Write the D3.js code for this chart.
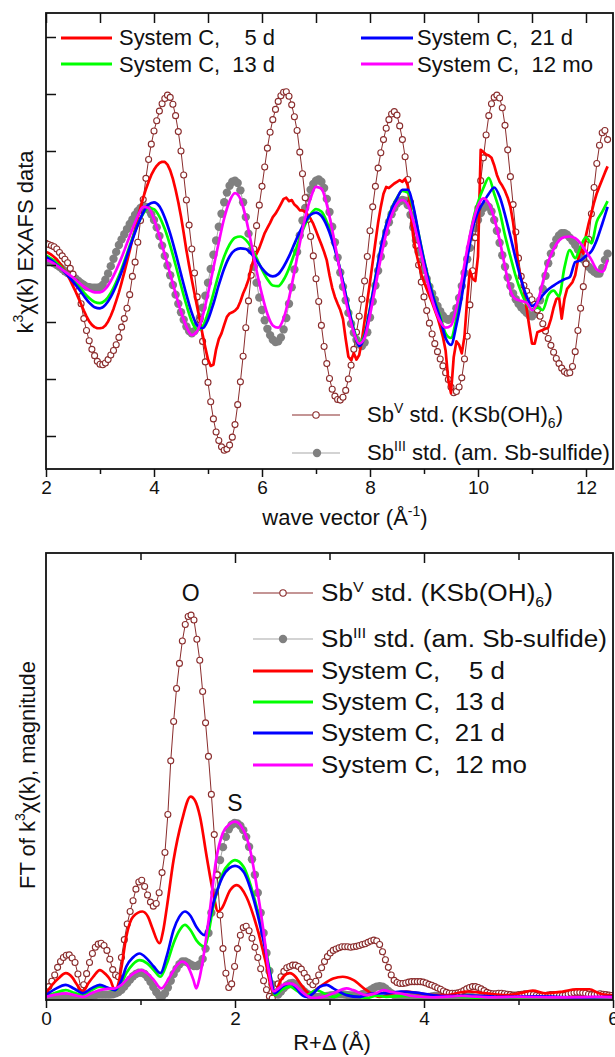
<!DOCTYPE html>
<html>
<head>
<meta charset="utf-8">
<script src="https://cdn.jsdelivr.net/npm/d3@7"></script>
<style>
  body { margin: 0; background: #fff; }
  svg text { font-family: "Liberation Sans", Arial, Helvetica, sans-serif; fill: #111; white-space: pre; }
</style>
</head>
<body>
<svg id="chart" width="615" height="1057"></svg>
<script>
// ---------- k-space (EXAFS) data ----------
// standards sampled every 0.05 Å⁻¹ from k = 2.0; smooth sample spectra every 0.1 Å⁻¹; the 5 d spectrum every 0.05 Å⁻¹
const kStart = 2.0;
const kStepFine = 0.05;
const kStepCoarse = 0.1;

const sbVk = [
  3.8,3.6,3.4,3.2,2.8,2.2,1.6,1.0,0.4,-0.6,-1.6,-3.0,-4.6,-6.8,-9.4,-11.5,-13.3,-14.8,-15.9,-16.9,
  -17.4,-17.5,-17.2,-16.6,-15.8,-15.0,-14.0,-12.7,-10.9,-9.4,-7.6,-5.2,-2.0,0.5,4.0,7.8,11.5,15.2,18.5,21.2,
  23.5,25.3,27.0,28.3,29.2,29.8,29.4,28.2,26.2,23.4,20.0,15.8,11.4,7.0,2.8,-1.4,-5.6,-9.6,-13.4,-17.0,
  -20.6,-24.0,-27.0,-29.3,-30.8,-31.9,-32.5,-32.3,-31.6,-30.2,-28.0,-24.5,-20.5,-16.0,-11.0,-6.3,-1.8,2.8,6.9,10.5,
  13.8,17.2,20.5,23.3,25.5,27.3,28.7,29.7,30.3,30.4,29.6,28.1,26.0,23.6,19.8,16.0,11.8,8.0,5.0,1.6,
  -2.4,-6.4,-10.6,-14.3,-17.3,-19.9,-21.8,-23.0,-23.6,-23.7,-23.2,-22.0,-20.0,-17.6,-14.8,-11.8,-9.0,-6.0,-2.8,1.5,
  6.0,10.2,13.8,17.0,19.7,22.0,24.0,25.5,26.5,26.9,26.3,24.4,22.0,19.0,15.0,11.0,7.2,3.4,0.0,-3.0,
  -5.6,-8.0,-10.2,-12.1,-13.8,-15.2,-16.5,-17.7,-18.9,-20.1,-21.4,-22.4,-22.2,-21.4,-19.8,-16.5,-12.5,-7.0,-1.0,4.8,
  10.0,14.8,18.8,22.8,26.2,28.3,29.4,29.8,29.3,27.6,24.5,20.2,15.5,10.6,5.8,1.2,-2.0,-3.6,-4.6,-5.4,
  -6.1,-6.9,-7.9,-9.0,-10.3,-11.6,-12.9,-14.1,-15.3,-16.4,-17.3,-18.1,-18.7,-19.0,-18.9,-17.8,-15.2,-11.5,-7.6,-3.8,
  0.2,4.5,9.0,13.6,17.8,21.0,23.2,23.6,22.0
];

const sbIIIk = [
  0.9,0.7,0.5,0.3,0.0,-0.3,-0.7,-1.1,-1.4,-1.7,-2.0,-2.4,-2.8,-3.2,-3.5,-3.8,-3.9,-4.0,-4.0,-4.0,
  -3.9,-3.5,-2.6,-1.5,-0.2,1.1,2.3,3.5,4.5,5.4,6.3,7.2,8.0,8.8,9.5,10.0,10.3,10.2,9.7,8.9,
  7.9,6.6,5.1,3.4,1.6,-0.1,-1.8,-3.5,-5.2,-6.8,-8.3,-9.6,-10.8,-11.6,-12.0,-11.6,-10.6,-9.2,-7.5,-5.4,
  -3.1,-0.7,1.8,4.3,6.7,9.0,11.0,12.7,13.9,14.6,14.8,14.4,13.1,11.0,8.4,5.5,2.6,-0.3,-3.1,-5.7,
  -7.9,-9.7,-11.2,-12.3,-13.1,-13.5,-13.4,-12.7,-11.3,-9.3,-6.8,-3.9,-0.8,2.3,5.2,7.8,10.0,11.8,13.2,14.2,
  14.8,15.0,14.6,13.5,11.6,9.3,6.7,4.0,1.3,-1.3,-3.8,-6.2,-8.4,-10.3,-11.9,-13.1,-13.9,-14.2,-13.6,-11.8,
  -9.2,-6.4,-3.6,-1.0,1.5,3.8,5.8,7.5,8.9,10.0,10.8,11.2,11.4,11.3,10.5,8.8,6.6,4.3,2.3,0.6,
  -0.9,-2.4,-3.8,-5.0,-6.1,-7.2,-8.1,-8.9,-9.4,-9.6,-9.4,-8.8,-7.6,-5.8,-3.7,-1.4,1.0,3.0,4.9,6.5,
  7.9,9.1,10.0,10.4,10.2,9.4,7.9,6.0,3.9,1.7,-0.3,-2.2,-3.7,-5.0,-6.0,-6.8,-7.4,-7.9,-8.4,-8.8,
  -9.0,-8.6,-7.7,-6.2,-4.2,-1.9,0.3,2.0,3.4,4.5,5.2,5.6,5.6,5.3,4.8,4.2,3.5,2.7,1.8,1.0,
  0.3,-0.3,-0.8,-1.2,-1.5,-1.5,-0.5,0.9,2.0
];

const sys5dK = [
  2.3,2.1,1.8,1.4,1.0,0.4,-0.3,-1.0,-1.8,-2.7,-3.7,-4.7,-5.8,-6.9,-8.0,-9.0,-9.9,-10.5,-10.9,-11.1,
  -11.1,-11.0,-10.6,-9.9,-8.9,-7.7,-6.3,-4.8,-3.1,-1.3,0.6,2.5,4.5,6.4,8.3,10.1,11.8,13.3,14.6,15.8,
  16.7,17.4,17.9,18.1,18.1,17.6,16.6,15.1,13.2,11.0,8.5,5.6,2.6,-0.1,-2.6,-5.0,-7.4,-9.8,-12.2,-14.5,
  -16.6,-17.7,-17.5,-14.8,-13.0,-12.0,-10.5,-9.1,-8.5,-8.3,-8.0,-7.5,-6.4,-5.0,-3.9,-2.6,-0.4,1.0,2.0,3.0,
  4.3,5.6,6.5,7.4,8.4,9.0,9.8,10.7,11.6,11.8,11.2,11.4,10.6,10.2,9.6,9.6,9.3,8.8,8.1,7.2,
  6.0,4.8,3.6,2.3,0.8,-1.8,-4.0,-5.6,-6.8,-7.9,-9.5,-13.0,-16.1,-16.7,-15.5,-16.6,-15.8,-13.2,-9.8,-6.3,
  -3.0,0.5,4.0,7.4,10.2,12.5,13.7,13.5,13.9,14.3,14.6,14.9,14.6,15.1,13.9,9.5,5.0,2.4,0.3,-1.6,
  -3.0,-4.2,-5.4,-6.6,-7.9,-9.2,-10.8,-12.6,-15.0,-20.2,-22.5,-16.2,-13.4,-14.0,-15.5,-12.5,-6.0,-1.0,-2.4,-2.8,
  1.5,20.2,19.8,19.4,19.2,18.8,17.5,15.8,14.6,13.9,13.0,11.8,10.2,7.5,3.8,-0.3,-2.4,-4.5,-7.6,-10.8,
  -13.8,-13.8,-11.8,-11.6,-11.4,-11.2,-11.0,-9.5,-7.5,-6.0,-5.6,-9.4,-6.0,-4.2,-3.6,-3.0,-1.8,0.8,3.0,2.0,
  5.2,7.3,9.1,11.0,12.6,13.8,15.0,16.2,17.3
];

const sys13dK = [
  1.7,1.1,0.3,-0.6,-1.6,-2.6,-3.7,-4.8,-5.8,-6.5,
  -6.7,-6.2,-4.9,-3.0,-0.7,2.0,4.7,7.1,9.0,10.0,
  9.8,8.5,6.3,3.4,0.0,-3.6,-7.0,-9.9,-11.4,-10.8,
  -8.4,-5.0,-1.5,1.5,3.6,4.8,5.0,4.4,3.1,1.2,
  -0.8,-2.5,-3.6,-3.7,-2.6,-0.6,2.0,4.7,7.1,8.9,
  9.8,9.4,7.6,4.7,1.1,-3.0,-7.3,-11.2,-13.6,-12.2,
  -7.6,-2.2,2.9,7.0,9.9,11.8,13.0,12.7,10.0,5.5,
  1.0,-3.0,-6.3,-9.0,-12.0,-12.8,-9.4,-4.5,1.8,7.5,
  11.0,13.5,15.3,12.5,9.5,5.2,1.5,-2.0,-4.8,-6.8,
  -7.8,-7.5,-7.9,-5.3,-4.5,-5.5,-0.5,2.6,1.2,3.2,
  4.9,3.8,7.6,9.3,11.2
];

const sys21dK = [
  1.4,0.8,0.0,-0.8,-1.8,-2.9,-4.1,-5.4,-6.6,-7.4,
  -7.6,-7.0,-5.6,-3.6,-1.2,1.6,4.4,7.0,9.2,10.6,
  11.0,10.3,8.3,5.5,2.1,-1.6,-5.2,-8.4,-10.6,-11.1,
  -9.6,-6.8,-3.5,-0.6,1.5,2.6,2.9,2.8,2.0,0.8,
  -0.6,-1.6,-2.0,-1.6,-0.3,1.5,3.7,5.8,7.6,8.8,
  9.2,8.6,6.9,4.3,1.0,-3.0,-7.5,-11.5,-14.2,-12.5,
  -7.8,-2.4,2.9,7.0,9.8,11.7,13.2,13.2,10.4,5.5,
  0.8,-3.2,-6.5,-9.4,-12.8,-14.0,-10.5,-5.5,1.0,6.4,
  9.3,11.0,12.5,13.6,12.0,8.8,5.0,1.0,-2.6,-5.5,
  -7.2,-6.5,-5.3,-4.3,-3.6,-3.0,-2.5,-2.1,0.5,0.8,
  1.6,2.4,4.4,7.2,10.2
];

const sys12moK = [
  0.9,0.5,-0.1,-0.8,-1.5,-2.2,-3.0,-3.8,-4.4,-4.8,
  -4.8,-4.2,-2.8,-0.9,1.3,3.8,6.3,8.6,10.2,10.0,
  8.0,5.1,1.8,-1.6,-5.0,-8.2,-10.8,-12.3,-11.6,-9.0,
  -5.0,-0.5,4.0,8.2,11.2,12.6,11.6,8.3,3.8,-1.0,
  -5.2,-8.6,-10.6,-11.0,-9.4,-5.8,-1.2,3.8,8.3,11.7,
  13.7,13.4,10.6,6.2,1.2,-3.8,-8.3,-11.8,-13.8,-12.8,
  -8.8,-3.8,1.2,5.5,8.7,10.7,11.4,10.6,7.8,3.9,
  -0.3,-4.3,-7.6,-9.9,-11.0,-10.6,-7.5,-2.6,2.8,7.3,
  10.4,11.7,10.8,8.2,4.4,-0.3,-4.5,-6.0,-6.3,-6.6,
  -7.9,-6.6,-3.0,0.5,2.8,4.3,4.9,5.0,4.7,3.8,
  2.4,0.9,-0.8,-1.2,0.9
];

// ---------- R-space (Fourier transform magnitude) data ----------
const rStep = 0.0307;   // FT grid of the standards, starting at R = 0

const sbVr = [
  1.5,3.0,4.2,5.6,7.3,8.6,9.5,10.0,10.1,9.4,
  8.4,5.8,2.8,3.4,5.9,8.4,10.4,11.8,12.5,12.7,
  12.2,11.1,9.1,6.8,5.6,5.2,9.5,13.5,17.0,19.8,
  22.2,24.8,26.4,26.8,25.4,23.5,21.9,21.0,21.6,24.0,
  28.5,33.0,41.5,53.5,62.3,69.7,75.3,80.3,84.0,85.8,
  86.1,85.0,80.7,76.0,69.0,62.0,54.5,46.0,37.0,28.0,
  19.0,11.5,6.0,2.8,3.6,7.5,11.5,14.5,16.2,16.5,
  15.5,13.8,11.8,9.5,7.0,4.3,2.3,0.8,0.4,1.8,
  3.6,5.2,6.4,7.2,7.5,7.8,7.8,7.5,6.9,6.0,
  5.0,4.0,3.4,4.2,5.6,7.2,8.6,9.7,10.5,11.1,
  11.4,11.7,11.9,11.9,11.9,11.8,11.9,12.0,12.2,12.4,
  12.6,12.9,13.2,13.4,13.2,12.4,10.8,9.0,7.3,5.6,
  4.4,3.9,3.7,3.7,3.8,4.0,4.1,4.1,4.1,4.1,
  4.0,3.8,3.5,3.3,3.0,2.7,2.4,2.0,1.7,1.5,
  1.5,1.5,1.6,1.8,2.1,2.5,2.8,3.0,3.0,2.8,
  2.5,2.1,1.7,1.5,1.4,1.4,1.5,1.5,1.4,1.3,
  1.2,1.1,1.1,1.2,1.3,1.4,1.4,1.3,1.2,1.0,
  0.9,0.9,1.0,1.1,1.2,1.2,1.1,1.0,1.0,1.1,
  1.3,1.5,1.6,1.7,1.7,1.6,1.5,1.3,1.2,1.2,
  1.3,1.4,1.3,1.2,1.1,1.0
];

const sbIIIr = [
  0.4,0.5,0.6,0.7,0.8,0.8,0.8,0.7,0.6,0.5,
  0.4,0.4,0.4,0.5,0.6,0.8,1.0,1.1,1.2,1.2,
  1.2,1.2,1.2,1.3,1.5,1.8,2.3,3.0,3.8,4.6,
  5.3,5.8,6.1,6.1,5.8,5.1,4.1,2.9,1.8,1.0,
  0.8,1.5,2.8,4.3,5.8,7.0,8.0,8.6,8.6,8.3,
  7.9,7.6,7.6,8.0,9.2,11.5,15.0,19.5,24.0,28.0,
  31.3,34.2,36.5,38.2,39.2,39.6,39.5,39.0,38.0,36.5,
  34.3,31.5,28.0,24.0,19.5,15.0,10.5,6.5,3.5,1.5,
  1.2,1.9,2.7,3.3,3.7,3.8,3.6,3.1,2.5,1.9,
  1.4,1.0,0.8,0.7,0.7,0.7,0.8,0.9,1.0,1.1,
  1.2,1.3,1.3,1.2,1.1,1.0,1.0,1.0,1.1,1.3,
  1.5,1.9,2.3,2.7,3.0,3.1,3.0,2.6,2.0,1.5,
  1.1,0.8,0.7,0.8,0.9,1.0,1.0,0.9,0.8,0.7,
  0.6,0.6,0.7,0.8,0.9,0.9,0.8,0.7,0.6,0.6,
  0.6,0.7,0.8,0.9,0.9,0.8,0.7,0.6,0.5,0.5,
  0.6,0.7,0.8,0.8,0.7,0.6,0.5,0.5,0.6,0.7,
  0.7,0.6,0.5,0.5,0.5,0.6,0.7,0.7,0.6,0.5,
  0.5,0.5,0.6,0.7,0.7,0.6,0.5,0.5,0.5,0.6,
  0.6,0.6,0.5,0.5,0.5,0.6,0.6,0.6,0.5,0.5,
  0.5,0.5,0.6,0.6,0.5,0.5
];

// sample spectra in R-space as [R, magnitude] pairs
const sys5dR = [[0,1.5],[0.07,3.5],[0.13,4.8],[0.21,6.0],[0.28,5.0],[0.32,3.7],[0.39,1.9],[0.45,3.8],[0.50,5.2],[0.57,6.7],[0.63,5.8],[0.68,4.5],[0.73,2.2],[0.77,4.0],[0.80,7.5],[0.85,14.2],[0.92,18.6],[1.02,19.8],[1.08,18.6],[1.12,16.4],[1.20,12.7],[1.24,15.5],[1.28,20.9],[1.35,31.3],[1.44,40.3],[1.53,45.5],[1.58,44.5],[1.63,41.0],[1.70,32.1],[1.77,23.9],[1.82,19.8],[1.86,20.5],[1.95,24.6],[2.02,25.7],[2.12,23.1],[2.23,16.4],[2.32,8.9],[2.39,2.2],[2.42,1.1],[2.47,3.8],[2.51,5.2],[2.58,6.0],[2.64,5.2],[2.69,3.7],[2.79,1.5],[2.90,3.0],[3.04,4.8],[3.14,5.2],[3.25,4.5],[3.39,2.2],[3.53,0.7],[3.67,1.5],[3.81,1.9],[3.95,1.5],[4.10,1.1],[4.24,1.1],[4.45,1.9],[4.66,1.5],[4.87,1.1],[5.01,1.5],[5.15,2.1],[5.29,1.5],[5.47,1.9],[5.61,2.4],[5.75,2.4],[5.85,1.5],[5.96,1.1],[6.0,1.1]];
const sys13dR = [[0,0.7],[0.1,1.6],[0.21,2.2],[0.3,1.6],[0.39,1.1],[0.48,2.2],[0.57,3.0],[0.65,2.6],[0.73,2.2],[0.8,3.8],[0.85,6.0],[0.92,8.0],[0.99,8.9],[1.07,8.2],[1.14,6.7],[1.21,5.2],[1.28,8.2],[1.35,12.7],[1.41,15.5],[1.47,16.8],[1.53,15.6],[1.59,13.4],[1.68,11.9],[1.72,15.0],[1.77,20.9],[1.82,25.0],[1.87,28.3],[1.94,30.5],[2.0,31.3],[2.09,29.8],[2.19,23.9],[2.30,14.2],[2.37,6.3],[2.42,1.1],[2.50,2.4],[2.58,3.0],[2.66,2.0],[2.75,1.0],[2.86,2.2],[2.97,1.2],[3.05,0.7],[3.14,1.5],[3.25,0.9],[3.40,0.5],[3.50,1.0],[3.60,0.7],[3.80,0.9],[4.0,0.6],[4.3,0.8],[4.6,0.5],[5.0,0.6],[5.4,0.5],[5.8,0.6],[6.0,0.5]];
const sys21dR = [[0,1.1],[0.1,2.5],[0.21,3.4],[0.3,2.5],[0.39,1.5],[0.48,2.6],[0.57,3.4],[0.65,2.8],[0.73,2.2],[0.8,4.5],[0.85,7.5],[0.92,9.5],[0.99,10.4],[1.07,9.2],[1.14,7.5],[1.21,6.0],[1.28,10.0],[1.35,15.7],[1.41,18.6],[1.47,19.8],[1.53,18.8],[1.59,16.4],[1.68,14.5],[1.72,17.0],[1.77,21.6],[1.82,25.0],[1.87,27.6],[1.94,29.5],[2.0,30.0],[2.09,28.7],[2.19,23.1],[2.30,13.4],[2.37,6.0],[2.42,1.5],[2.50,3.0],[2.58,3.7],[2.66,2.4],[2.69,1.5],[2.76,0.7],[2.83,1.5],[2.90,3.0],[2.97,3.4],[3.04,2.6],[3.18,1.1],[3.32,0.7],[3.46,1.5],[3.60,1.5],[3.76,1.9],[3.97,1.5],[4.2,0.9],[4.5,1.0],[4.8,0.7],[5.2,0.8],[5.6,0.6],[6.0,0.7]];
const sys12moR = [[0,0.7],[0.1,1.2],[0.21,1.5],[0.3,1.1],[0.39,0.7],[0.48,1.5],[0.57,2.2],[0.65,2.5],[0.73,2.6],[0.8,3.4],[0.85,4.5],[0.93,6.0],[1.01,6.7],[1.08,5.8],[1.14,4.5],[1.22,2.6],[1.31,5.2],[1.38,7.6],[1.44,8.6],[1.49,8.0],[1.52,6.7],[1.56,4.5],[1.59,2.6],[1.62,4.5],[1.66,8.9],[1.73,19.4],[1.80,31.3],[1.87,37.3],[1.94,39.3],[2.0,39.9],[2.09,38.0],[2.16,33.6],[2.23,25.4],[2.30,15.7],[2.35,7.5],[2.41,1.9],[2.46,2.6],[2.51,3.4],[2.58,3.7],[2.64,3.2],[2.69,2.2],[2.76,1.0],[2.83,0.4],[2.93,0.7],[3.04,1.5],[3.18,2.6],[3.25,2.2],[3.39,1.1],[3.50,1.6],[3.57,2.2],[3.65,1.8],[3.74,1.5],[3.9,0.8],[4.1,0.6],[4.4,0.9],[4.7,0.6],[5.0,0.7],[5.4,0.6],[5.8,0.7],[6.0,0.6]];

// ---------- labels ----------
const sampleLabels = ["System C,    5 d", "System C,  13 d", "System C,  21 d", "System C,  12 mo"];
const kTicksMajor = [2, 4, 6, 8, 10, 12];
const kTicksMinor = [3, 5, 7, 9, 11];
const rTicksMajor = [0, 2, 4, 6];
const rTicksMinor = [1, 3, 5];

// ---------- styles ----------
const sampleColors = ["#ff0000", "#00ff00", "#0000ff", "#ff00ff"];
const sbVColor = "#8a2c2c";
const sbIIIColor = "#808080";

const svg = d3.select("#chart");

// Build point lists from sampled arrays
const sampled = (vals, start, step) => vals.map((v, i) => [start + i * step, v]);

const kPts = {
  sbV: sampled(sbVk, kStart, kStepFine),
  sbIII: sampled(sbIIIk, kStart, kStepFine),
  samples: [
    sampled(sys5dK, kStart, kStepFine),
    sampled(sys13dK, kStart, kStepCoarse),
    sampled(sys21dK, kStart, kStepCoarse),
    sampled(sys12moK, kStart, kStepCoarse)
  ]
};
const rPts = {
  sbV: sampled(sbVr, 0, rStep),
  sbIII: sampled(sbIIIr, 0, rStep),
  samples: [sys5dR, sys13dR, sys21dR, sys12moR]
};

// ---------- panel geometry ----------
const xLeft = 46, xRight = 613;
const panelK = { y0: 13, y1: 469 };
const panelR = { y0: 553, y1: 1000 };

const xK = d3.scaleLinear([2, 12.5], [xLeft, xRight]);
const yK = d3.scaleLinear([-35.79, 44.21], [panelK.y1, panelK.y0]);
const xR = d3.scaleLinear([0, 6], [xLeft, xRight]);
const yR = d3.scaleLinear([0, 100], [panelR.y1, panelR.y0]);

const defs = svg.append("defs");
defs.append("clipPath").attr("id", "clipK").append("rect")
  .attr("x", xLeft).attr("y", panelK.y0).attr("width", xRight - xLeft).attr("height", panelK.y1 - panelK.y0);
defs.append("clipPath").attr("id", "clipR").append("rect")
  .attr("x", xLeft).attr("y", panelR.y0).attr("width", xRight - xLeft).attr("height", panelR.y1 - panelR.y0);

// text with super/subscript pieces: strings stay on the baseline, {t, d} pieces are shifted
function richText(parent, parts, attrs) {
  const t = parent.append("text");
  Object.entries(attrs).forEach(([k, v]) => t.attr(k, v));
  let shift = 0;
  parts.forEach(p => {
    const s = typeof p === "string" ? { t: p, d: 0 } : p;
    const ts = t.append("tspan").text(s.t);
    if (s.d !== shift) { ts.attr("dy", s.d - shift); shift = s.d; }
    if (s.d !== 0) ts.attr("font-size", s.fs || 14);
  });
  return t;
}

function drawStandards(g, pts, xS, yS) {
  // Sb(III): grey line with filled grey dots
  g.append("path").datum(pts.sbIII)
    .attr("d", d3.line().x(d => xS(d[0])).y(d => yS(d[1])))
    .attr("fill", "none").attr("stroke", "#a8a8a8").attr("stroke-width", 1);
  g.append("g").selectAll("circle").data(pts.sbIII).join("circle")
    .attr("cx", d => xS(d[0])).attr("cy", d => yS(d[1])).attr("r", 4.2)
    .attr("fill", sbIIIColor);
  // Sb(V): thin brown line with open circles
  g.append("path").datum(pts.sbV)
    .attr("d", d3.line().x(d => xS(d[0])).y(d => yS(d[1])))
    .attr("fill", "none").attr("stroke", sbVColor).attr("stroke-width", 1);
  g.append("g").selectAll("circle").data(pts.sbV).join("circle")
    .attr("cx", d => xS(d[0])).attr("cy", d => yS(d[1])).attr("r", 3)
    .attr("fill", "#fff").attr("stroke", sbVColor).attr("stroke-width", 1.1);
}

function drawSamples(g, list, xS, yS, curves) {
  list.forEach((pts, i) => {
    g.append("path").datum(pts)
      .attr("d", d3.line().x(d => xS(d[0])).y(d => yS(d[1])).curve(curves[i]))
      .attr("fill", "none").attr("stroke", sampleColors[i])
      .attr("stroke-width", 2.7).attr("stroke-linejoin", "round");
  });
}

const tickStyle = sel => {
  sel.select(".domain").remove();
  sel.selectAll("line").attr("stroke", "#111").attr("stroke-width", 1.5);
};
const labelStyle = sel => sel.selectAll("text").attr("font-size", 19).attr("fill", "#111").attr("font-family", null);

// ================= upper panel: k-space =================
const gK = svg.append("g");
const plotK = gK.append("g").attr("clip-path", "url(#clipK)");
drawStandards(plotK, kPts, xK, yK);
drawSamples(plotK, kPts.samples, xK, yK,
  [d3.curveLinear, d3.curveMonotoneX, d3.curveMonotoneX, d3.curveMonotoneX]);

gK.append("g").attr("transform", `translate(0,${panelK.y1})`)
  .call(d3.axisBottom(xK).tickValues(kTicksMajor).tickSize(8).tickPadding(4).tickFormat(d3.format("d")))
  .call(tickStyle).call(labelStyle);
gK.append("g").attr("transform", `translate(0,${panelK.y1})`)
  .call(d3.axisBottom(xK).tickValues(kTicksMinor).tickSize(5).tickFormat(""))
  .call(tickStyle);
gK.append("g").attr("transform", `translate(0,${panelK.y0})`)
  .call(d3.axisTop(xK).tickValues(kTicksMajor.concat(kTicksMinor)).tickSize(-10).tickFormat(""))
  .call(tickStyle);
gK.append("g").attr("transform", `translate(${xLeft},0)`)
  .call(d3.axisLeft(yK).tickValues([-30, -20, -10, 0, 10, 20, 30, 40]).tickSize(-10).tickFormat(""))
  .call(tickStyle);
gK.append("rect").attr("x", xLeft).attr("y", panelK.y0).attr("width", xRight - xLeft).attr("height", panelK.y1 - panelK.y0)
  .attr("fill", "none").attr("stroke", "#111").attr("stroke-width", 1.8);

richText(gK, ["wave vector (Å", { t: "-1", d: -9 }, ")"],
  { x: 345, y: 525, "text-anchor": "middle", "font-size": 22 });
richText(gK, ["k", { t: "3", d: -10 }, "χ(k) EXAFS data"],
  { transform: "translate(33,242) rotate(-90)", "text-anchor": "middle", "font-size": 22 });

// legend: sample spectra (upper)
const kLegend = [
  { x1: 61, x2: 112, y: 38, tx: 119, ty: 45, w: 156 },
  { x1: 61, x2: 112, y: 64, tx: 119, ty: 72, w: 156 },
  { x1: 361, x2: 413, y: 38, tx: 417, ty: 45, w: 156 },
  { x1: 361, x2: 413, y: 64, tx: 417, ty: 72, w: 176 }
];
kLegend.forEach((p, i) => {
  gK.append("line").attr("x1", p.x1).attr("x2", p.x2).attr("y1", p.y).attr("y2", p.y)
    .attr("stroke", sampleColors[i]).attr("stroke-width", 3);
  gK.append("text").attr("x", p.tx).attr("y", p.ty).attr("font-size", 22)
    .attr("textLength", p.w).attr("lengthAdjust", "spacingAndGlyphs").text(sampleLabels[i]);
});

const sbVLabel = ["Sb", { t: "V", d: -9 }, " std. (KSb(OH)", { t: "6", d: 6 }, ")"];
const sbIIILabel = ["Sb", { t: "III", d: -9 }, " std. (am. Sb-sulfide)"];

function standardKey(g, x1, x2, xm, y, kind) {
  if (kind === "V") {
    g.append("line").attr("x1", x1).attr("x2", x2).attr("y1", y).attr("y2", y)
      .attr("stroke", sbVColor).attr("stroke-width", 1.2);
    g.append("circle").attr("cx", xm).attr("cy", y).attr("r", 3.2)
      .attr("fill", "#fff").attr("stroke", sbVColor).attr("stroke-width", 1.1);
  } else {
    g.append("line").attr("x1", x1).attr("x2", x2).attr("y1", y).attr("y2", y)
      .attr("stroke", "#a8a8a8").attr("stroke-width", 1.2);
    g.append("circle").attr("cx", xm).attr("cy", y).attr("r", 4.2).attr("fill", sbIIIColor);
  }
}

standardKey(gK, 292, 340, 316, 415, "V");
richText(gK, sbVLabel, { x: 367, y: 422, "font-size": 22, textLength: 196, lengthAdjust: "spacingAndGlyphs" });
standardKey(gK, 292, 340, 317, 453, "III");
richText(gK, sbIIILabel, { x: 367, y: 460, "font-size": 22, textLength: 243, lengthAdjust: "spacingAndGlyphs" });

// ================= lower panel: R-space =================
const gR = svg.append("g");
const plotR = gR.append("g").attr("clip-path", "url(#clipR)");
drawStandards(plotR, rPts, xR, yR);
drawSamples(plotR, rPts.samples, xR, yR,
  [d3.curveMonotoneX, d3.curveMonotoneX, d3.curveMonotoneX, d3.curveMonotoneX]);

gR.append("g").attr("transform", `translate(0,${panelR.y1})`)
  .call(d3.axisBottom(xR).tickValues(rTicksMajor).tickSize(8).tickPadding(4).tickFormat(d3.format("d")))
  .call(tickStyle).call(labelStyle);
gR.append("g").attr("transform", `translate(0,${panelR.y1})`)
  .call(d3.axisBottom(xR).tickValues(rTicksMinor).tickSize(5).tickFormat(""))
  .call(tickStyle);
gR.append("g").attr("transform", `translate(0,${panelR.y0})`)
  .call(d3.axisTop(xR).tickValues([2, 4]).tickSize(-10).tickFormat(""))
  .call(tickStyle);
gR.append("g").attr("transform", `translate(0,${panelR.y0})`)
  .call(d3.axisTop(xR).tickValues(rTicksMinor).tickSize(-7).tickFormat(""))
  .call(tickStyle);
gR.append("rect").attr("x", xLeft).attr("y", panelR.y0).attr("width", xRight - xLeft).attr("height", panelR.y1 - panelR.y0)
  .attr("fill", "none").attr("stroke", "#111").attr("stroke-width", 1.8);

richText(gR, ["R+Δ (Å)"], { x: 332, y: 1050, "text-anchor": "middle", "font-size": 22 });
richText(gR, ["FT of k", { t: "3", d: -10 }, "χ(k), magnitude"],
  { transform: "translate(35,775) rotate(-90)", "text-anchor": "middle", "font-size": 22 });

// shell labels
gR.append("text").attr("x", xR(1.53)).attr("y", 601).attr("text-anchor", "middle").attr("font-size", 23).text("O");
gR.append("text").attr("x", xR(2.0)).attr("y", 811).attr("text-anchor", "middle").attr("font-size", 23).text("S");

// legend (lower panel)
const rRows = [593, 639, 671, 702, 733, 765];
standardKey(gR, 253, 313, 283, rRows[0], "V");
richText(gR, sbVLabel, { x: 321, y: rRows[0] + 8, "font-size": 23, textLength: 232, lengthAdjust: "spacingAndGlyphs" });
standardKey(gR, 253, 313, 283, rRows[1], "III");
richText(gR, sbIIILabel, { x: 321, y: rRows[1] + 8, "font-size": 23, textLength: 286, lengthAdjust: "spacingAndGlyphs" });
const rWidths = [184, 184, 184, 206];
sampleLabels.forEach((lab, i) => {
  const y = rRows[i + 2];
  gR.append("line").attr("x1", 253).attr("x2", 313).attr("y1", y).attr("y2", y)
    .attr("stroke", sampleColors[i]).attr("stroke-width", 3);
  gR.append("text").attr("x", 321).attr("y", y + 8).attr("font-size", 23)
    .attr("textLength", rWidths[i]).attr("lengthAdjust", "spacingAndGlyphs").text(lab);
});
</script>
</body>
</html>
